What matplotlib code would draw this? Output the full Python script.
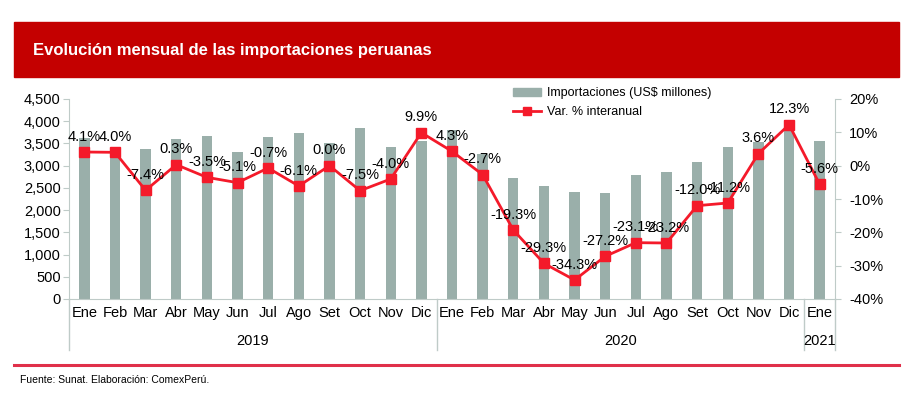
import matplotlib
matplotlib.use("Agg")
import matplotlib.pyplot as plt
import matplotlib.ticker as mticker
from matplotlib.patches import Rectangle
from matplotlib.lines import Line2D
from matplotlib.patches import Patch

# data
months = ["Ene", "Feb", "Mar", "Abr", "May", "Jun", "Jul", "Ago", "Set", "Oct", "Nov", "Dic",
          "Ene", "Feb", "Mar", "Abr", "May", "Jun", "Jul", "Ago", "Set", "Oct", "Nov", "Dic",
          "Ene"]
years = ["2019", "2020", "2021"]
year_spans = [(0, 11), (12, 23), (24, 24)]
imports = [3616, 3350, 3375, 3590, 3667, 3300, 3645, 3742, 3510, 3855, 3413, 3562,
           3800, 3262, 2715, 2550, 2407, 2385, 2790, 2865, 3083, 3413, 3525, 4030,
           3562]
var_pct = [4.1, 4.0, -7.4, 0.3, -3.5, -5.1, -0.7, -6.1, 0.0, -7.5, -4.0, 9.9,
           4.3, -2.7, -19.3, -29.3, -34.3, -27.2, -23.1, -23.2, -12.0, -11.2, 3.6, 12.3,
           -5.6]

BAR_COLOR = "#9AAFAA"
LINE_COLOR = "#F41A2A"
AXIS_COLOR = "#BFCBC8"
NARROW = ["Liberation Sans Narrow", "Liberation Sans", "DejaVu Sans"]
plt.rcParams["font.family"] = ["Liberation Sans", "DejaVu Sans"]

fig = plt.figure(figsize=(9.09, 3.95), dpi=100)

# header band
fig.patches.append(Rectangle((14 / 909, 1 - 77 / 395), 885 / 909, 55 / 395,
                             transform=fig.transFigure, color="#C40000", zorder=0))
fig.text(33 / 909, 1 - 50 / 395, "Evolución mensual de las importaciones peruanas",
         color="white", fontsize=12, fontweight="bold", family=NARROW, va="center")

# bottom red rule and source
fig.add_artist(Line2D([14 / 909, 899 / 909], [1 - 365 / 395, 1 - 365 / 395],
                      transform=fig.transFigure, color="#E0304A", lw=2.2))
fig.text(20 / 909, 1 - 380 / 395, "Fuente: Sunat. Elaboración: ComexPerú.",
         fontsize=7.5, family=NARROW, va="center")

ax = fig.add_axes([69 / 909, 1 - 299 / 395, 766 / 909, 200 / 395])
x = list(range(len(months)))
ax.bar(x, imports, width=0.34, color=BAR_COLOR, zorder=1)
ax.set_xlim(-0.5, len(months) - 0.5)
ax.set_ylim(0, 4500)
ax.set_yticks(range(0, 4501, 500))
ax.yaxis.set_major_formatter(mticker.FuncFormatter(lambda v, p: f"{int(v):,}"))
ax.set_xticks(x)
ax.set_xticklabels(months, family=NARROW, fontsize=10.5)
ax.tick_params(axis="x", length=0, pad=5)
ax.tick_params(axis="y", labelsize=10.5, length=4, color=AXIS_COLOR, pad=2)
for s in ["top", "right"]:
    ax.spines[s].set_visible(False)
for s in ["left", "bottom"]:
    ax.spines[s].set_color(AXIS_COLOR)

ax2 = ax.twinx()
ax2.plot(x, var_pct, color=LINE_COLOR, lw=2, marker="s", markersize=7, zorder=3)
ax2.set_ylim(-40, 20)
ax2.set_yticks(range(-40, 21, 10))
ax2.yaxis.set_major_formatter(mticker.FuncFormatter(lambda v, p: f"{int(v)}%"))
ax2.tick_params(axis="y", labelsize=10.5, length=4, color=AXIS_COLOR, pad=6)
for s in ["top", "left", "bottom"]:
    ax2.spines[s].set_visible(False)
ax2.spines["right"].set_color(AXIS_COLOR)

for xi, v in zip(x, var_pct):
    ax2.annotate(f"{v:.1f}%", (xi, v), xytext=(0, 6), textcoords="offset points",
                 ha="center", va="bottom", fontsize=10.5)

# year groups under month labels
trans = ax.get_xaxis_transform()
for lab, (a, b) in zip(years, year_spans):
    ax.text((a + b) / 2, -0.21, lab, transform=trans, ha="center", va="center",
            family=NARROW, fontsize=10.5)
for sep in [-0.5, 11.5, 23.5, 24.5]:
    ax.plot([sep, sep], [0, -0.255], transform=trans, color=AXIS_COLOR, lw=1, clip_on=False)

handles = [Patch(color=BAR_COLOR),
           Line2D([], [], color=LINE_COLOR, lw=2, marker="s", markersize=6)]
fig.legend(handles, ["Importaciones (US$ millones)", "Var. % interanual"],
           loc="upper left", bbox_to_anchor=(508 / 909, 1 - 82 / 395), frameon=False,
           fontsize=9, handlelength=2.2, handleheight=0.6, labelspacing=0.55,
           handletextpad=0.5, borderaxespad=0)

fig.savefig("out.png", dpi=100)
